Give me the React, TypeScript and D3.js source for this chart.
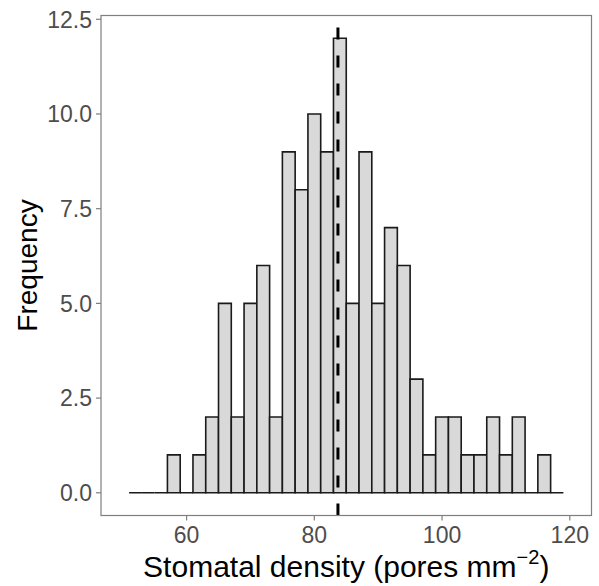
import React from 'react';
import * as d3 from 'd3';

// histogram bins (lower edge, pores mm^-2) and counts
const binLower = [51, 53, 55, 57, 59, 61, 63, 65, 67, 69, 71, 73, 75, 77, 79, 81, 83,
  85, 87, 89, 91, 93, 95, 97, 99, 101, 103, 105, 107, 109, 111, 113, 115, 117];
const binCounts = [0, 0, 0, 1, 0, 1, 2, 5, 2, 5, 6, 2, 9, 8, 10, 9, 12,
  5, 9, 5, 7, 6, 3, 1, 2, 2, 1, 1, 2, 1, 2, 0, 1, 0];
const binWidth = 2;
const meanDensity = 83.7;

const xTicks = [60, 80, 100, 120];
const yTicks = [0, 2.5, 5, 7.5, 10, 12.5];

const W = 599;
const H = 586;
const panel = { left: 101, top: 15.5, right: 591.5, bottom: 515.5 };

const App = () => {
  const x = d3.scaleLinear().domain([46.6, 123.4]).range([panel.left, panel.right]);
  const y = d3.scaleLinear().domain([-0.6, 12.6]).range([panel.bottom, panel.top]);
  const fmt = d3.format('.1f');
  const font = 'Liberation Sans, Arial, sans-serif';

  // path per bin so empty bins still draw as a flat outline
  const barPath = (b: number, n: number) => {
    const p = d3.path();
    p.moveTo(x(b), y(0));
    p.lineTo(x(b), y(n));
    p.lineTo(x(b + binWidth), y(n));
    p.lineTo(x(b + binWidth), y(0));
    p.closePath();
    return p.toString();
  };

  return (
    <svg width={W} height={H} style={{ position: 'absolute', left: 0, top: 0 }} fontFamily={font}>
      <rect x={0} y={0} width={W} height={H} fill="white" />

      {binLower.map((b, i) => (
        <path key={i} d={barPath(b, binCounts[i])} fill="#d9d9d9" stroke="#1a1a1a" strokeWidth={1.6} />
      ))}

      {/* mean line */}
      <line
        x1={x(meanDensity)}
        x2={x(meanDensity)}
        y1={panel.bottom}
        y2={panel.top}
        stroke="black"
        strokeWidth={3}
        strokeDasharray="12,16"
      />

      {/* panel border */}
      <rect
        x={panel.left}
        y={panel.top}
        width={panel.right - panel.left}
        height={panel.bottom - panel.top}
        fill="none"
        stroke="#7f7f7f"
        strokeWidth={1.2}
      />

      {/* y axis */}
      {yTicks.map(t => (
        <g key={t}>
          <line x1={panel.left - 5} x2={panel.left} y1={y(t)} y2={y(t)} stroke="#7f7f7f" strokeWidth={1.2} />
          <text x={panel.left - 9} y={y(t)} dy="0.36em" textAnchor="end" fontSize={23} fill="#4d4d4d">
            {fmt(t)}
          </text>
        </g>
      ))}

      {/* x axis */}
      {xTicks.map(t => (
        <g key={t}>
          <line x1={x(t)} x2={x(t)} y1={panel.bottom} y2={panel.bottom + 5} stroke="#7f7f7f" strokeWidth={1.2} />
          <text x={x(t)} y={panel.bottom + 27.5} textAnchor="middle" fontSize={23} fill="#4d4d4d">
            {t}
          </text>
        </g>
      ))}

      {/* axis titles */}
      <text
        transform={`translate(37,${(panel.top + panel.bottom) / 2}) rotate(-90)`}
        textAnchor="middle"
        fontSize={28}
        fill="black"
      >
        Frequency
      </text>
      <text x={(panel.left + panel.right) / 2} y={577} textAnchor="middle" fontSize={30} fill="black">
        Stomatal density (pores mm
        <tspan fontSize={20} dy={-13}>−2</tspan>
        <tspan dy={13}>)</tspan>
      </text>
    </svg>
  );
};

export default App;
